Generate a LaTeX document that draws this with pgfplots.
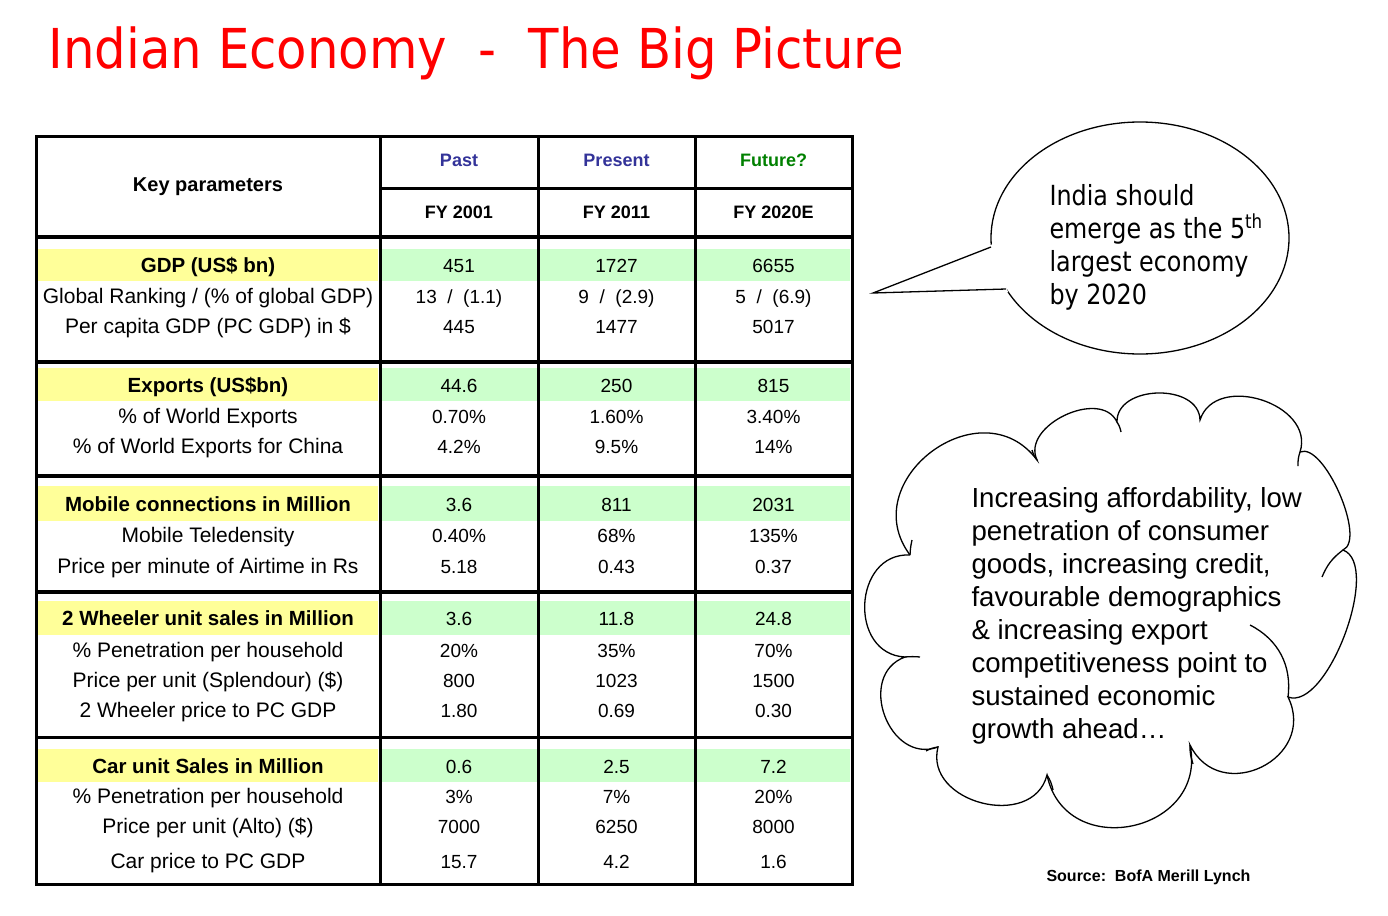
\documentclass[border=0pt]{standalone}
\usepackage{pgfplots}
\pgfplotsset{compat=1.18}
\usepackage{fontspec}
\setmainfont{Liberation Sans}
\newfontfamily\tah[FakeStretch=0.86]{DejaVu Sans}
\newfontfamily\tahT[FakeStretch=0.905]{DejaVu Sans}
\definecolor{yband}{HTML}{FFFF99}
\definecolor{gband}{HTML}{CCFFCC}
\definecolor{hdrblue}{HTML}{333399}
\definecolor{hdrgreen}{HTML}{008000}
\newcommand{\fs}[1]{\fontsize{#1}{#1}\selectfont}
% one table row: baseline y, label, FY2001, FY2011, FY2020E
\newcommand{\trow}[5]{%
  \node[anchor=base,font=\fs{21}] at (axis cs:208,#1) {#2};
  \node[anchor=base,font=\fs{19}] at (axis cs:459,#1) {#3};
  \node[anchor=base,font=\fs{19}] at (axis cs:616.5,#1) {#4};
  \node[anchor=base,font=\fs{19}] at (axis cs:773.5,#1) {#5};}
\newcommand{\brow}[5]{%
  \node[anchor=base,font=\bfseries\fs{20.5}] at (axis cs:208,#1) {#2};
  \node[anchor=base,font=\fs{19}] at (axis cs:459,#1) {#3};
  \node[anchor=base,font=\fs{19}] at (axis cs:616.5,#1) {#4};
  \node[anchor=base,font=\fs{19}] at (axis cs:773.5,#1) {#5};}
\newcommand{\band}[2]{%
  \fill[yband] (axis cs:38,#1) rectangle (axis cs:378,#2);
  \fill[gband] (axis cs:382,#1) rectangle (axis cs:850,#2);}
\begin{document}
\begin{tikzpicture}
\begin{axis}[width=1388pt,height=915pt,scale only axis,
  xmin=0,xmax=1388,ymin=0,ymax=915,y dir=reverse,
  hide axis,clip=false]
\path (axis cs:0,0) rectangle (axis cs:1388,915);
% title
\node[anchor=base west,text=red,font=\tahT\fs{55}] at (axis cs:45,69)
  {Indian Economy\ \ -\ \ The Big Picture};
% bands
\band{249}{281}
\band{368}{401}
\band{486}{521}
\band{601}{635}
\band{749}{782}
% grid lines
\draw[line width=3pt] (axis cs:36,136) rectangle (axis cs:852,884);
\draw[line width=3pt] (axis cs:380,136) -- (axis cs:380,884);
\draw[line width=3pt] (axis cs:538,136) -- (axis cs:538,884);
\draw[line width=3pt] (axis cs:695,136) -- (axis cs:695,884);
\draw[line width=3pt] (axis cs:380,188) -- (axis cs:852,188);
\draw[line width=4pt] (axis cs:36,237) -- (axis cs:852,237);
\draw[line width=4pt] (axis cs:36,362) -- (axis cs:852,362);
\draw[line width=4pt] (axis cs:36,476) -- (axis cs:852,476);
\draw[line width=4pt] (axis cs:36,592) -- (axis cs:852,592);
\draw[line width=3pt] (axis cs:36,737) -- (axis cs:852,737);
% header
\node[anchor=base,font=\bfseries\fs{20}] at (axis cs:208,191) {Key parameters};
\node[anchor=base,font=\bfseries\fs{18},text=hdrblue] at (axis cs:459,166) {Past};
\node[anchor=base,font=\bfseries\fs{18},text=hdrblue] at (axis cs:616.5,166) {Present};
\node[anchor=base,font=\bfseries\fs{18},text=hdrgreen] at (axis cs:773.5,166) {Future?};
\node[anchor=base,font=\bfseries\fs{18}] at (axis cs:459,218) {FY 2001};
\node[anchor=base,font=\bfseries\fs{18}] at (axis cs:616.5,218) {FY 2011};
\node[anchor=base,font=\bfseries\fs{18}] at (axis cs:773.5,218) {FY 2020E};
% GDP
\brow{272}{GDP (US\$ bn)}{451}{1727}{6655}
\trow{303}{Global Ranking / (\% of global GDP)}{13 \ / \ (1.1)}{9 \ / \ (2.9)}{5 \ / \ (6.9)}
\trow{333}{Per capita GDP (PC GDP) in \$}{445}{1477}{5017}
% Exports
\brow{392}{Exports (US\$bn)}{44.6}{250}{815}
\trow{423}{\% of World Exports}{0.70\%}{1.60\%}{3.40\%}
\trow{453}{\% of World Exports for China}{4.2\%}{9.5\%}{14\%}
% Mobile
\brow{511}{Mobile connections in Million}{3.6}{811}{2031}
\trow{542}{Mobile Teledensity}{0.40\%}{68\%}{135\%}
\trow{573}{Price per minute of Airtime in Rs}{5.18}{0.43}{0.37}
% 2 wheeler
\brow{625}{2 Wheeler unit sales in Million}{3.6}{11.8}{24.8}
\trow{657}{\% Penetration per household}{20\%}{35\%}{70\%}
\trow{687}{Price per unit (Splendour) (\$)}{800}{1023}{1500}
\trow{717}{2 Wheeler price to PC GDP}{1.80}{0.69}{0.30}
% Car
\brow{773}{Car unit Sales in Million}{0.6}{2.5}{7.2}
\trow{803}{\% Penetration per household}{3\%}{7\%}{20\%}
\trow{833}{Price per unit (Alto) (\$)}{7000}{6250}{8000}
\trow{868}{Car price to PC GDP}{15.7}{4.2}{1.6}
% speech bubble
\draw[line width=1.3pt,fill=white] (axis cs:1140,238) ellipse [x radius=149pt, y radius=116pt];
\fill[white] (axis cs:993,244) -- (axis cs:873,293) -- (axis cs:1008,292) -- cycle;
\draw[line width=1.3pt] (axis cs:991,247) -- (axis cs:873,293) -- (axis cs:1006,289);
\node[anchor=base west,font=\tah\fs{27.7}] at (axis cs:1046,205) {India should};
\node[anchor=base west,font=\tah\fs{27.7}] at (axis cs:1046,238) {emerge as the 5\textsuperscript{th}};
\node[anchor=base west,font=\tah\fs{27.7}] at (axis cs:1046,271) {largest economy};
\node[anchor=base west,font=\tah\fs{27.7}] at (axis cs:1046,304) {by 2020};
% cloud
\draw[overlay,line width=1.3pt,line join=miter]
  (axis cs:910,555) to[bend left=90,looseness=1.5] (axis cs:1037,460)
  to[bend left=90,looseness=1.1] (axis cs:1117,422)
  to[bend left=90,looseness=1.15] (axis cs:1200,420)
  to[bend left=90,looseness=1.23] (axis cs:1300,452)
  to[bend left=90,looseness=0.62] (axis cs:1343,550)
  to[bend left=90,looseness=0.68] (axis cs:1288,697)
  to[bend left=90,looseness=1.6] (axis cs:1190,745)
  to[bend left=90,looseness=1.57] (axis cs:1047,775)
  to[bend left=90,looseness=1.31] (axis cs:938,747)
  to[bend left=90,looseness=1.4] (axis cs:905,657)
  to[bend left=90,looseness=1.43] (axis cs:910,555);
% inner arcs of the cloud
\begin{scope}[overlay,line width=1.3pt]
\draw (axis cs:1288,697) to[bend right=35] (axis cs:1250,625);
\draw (axis cs:1343,550) to[bend right=15] (axis cs:1322,577);
\draw (axis cs:1300,452) to[bend right=10] (axis cs:1298,466);
\draw (axis cs:1117,422) to[bend left=10] (axis cs:1121,432);
\draw (axis cs:1037,460) to[bend left=10] (axis cs:1032,450);
\draw (axis cs:910,555) to[bend left=5] (axis cs:912,540);
\draw (axis cs:905,657) to[bend left=5] (axis cs:920,657);
\draw (axis cs:938,747) to[bend right=10] (axis cs:926,751);
\draw (axis cs:1047,775) to[bend left=10] (axis cs:1053,790);
\draw (axis cs:1190,745) to[bend right=10] (axis cs:1193,764);
\end{scope}
\node[anchor=base west,font=\fs{27.6}] at (axis cs:968,507) {Increasing affordability, low};
\node[anchor=base west,font=\fs{27.6}] at (axis cs:968,540) {penetration of consumer};
\node[anchor=base west,font=\fs{27.6}] at (axis cs:968,573) {goods, increasing credit,};
\node[anchor=base west,font=\fs{27.6}] at (axis cs:968,606) {favourable demographics};
\node[anchor=base west,font=\fs{27.6}] at (axis cs:968,639) {\& increasing export};
\node[anchor=base west,font=\fs{27.6}] at (axis cs:968,672) {competitiveness point to};
\node[anchor=base west,font=\fs{27.6}] at (axis cs:968,705) {sustained economic};
\node[anchor=base west,font=\fs{27.6}] at (axis cs:968,738) {growth ahead…};
% source
\node[anchor=base west,font=\bfseries\fs{16}] at (axis cs:1043,881) {Source:\ \ BofA Merill Lynch};
\end{axis}
\end{tikzpicture}
\end{document}
